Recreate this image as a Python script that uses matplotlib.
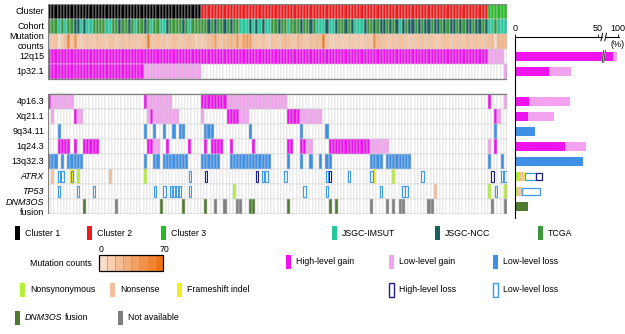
import matplotlib
matplotlib.use("Agg")
import matplotlib.pyplot as plt
from matplotlib.patches import Rectangle
from matplotlib.colors import LinearSegmentedColormap

plt.rcParams["font.family"] = ["Liberation Sans", "DejaVu Sans"]
plt.rcParams["font.size"] = 6.5

# ---------------- data ----------------
cluster_names = ["Cluster 1", "Cluster 2", "Cluster 3"]
cluster_sizes = [48, 90, 6]

# T = TCGA, I = JSGC-IMSUT, N = JSGC-NCC  (one letter per sample)
cohort = ("TTTITITTNNINIITT" "TTIITTNTTNTITTNT" "ITTIINTTTTNTITTT"
          "TTNTNTTNTNTTIIIN" "ININIITTNTTITTTN" "TTNTIIINIINTTNTN"
          "IIINTTNTNNTNTNIN" "TNNTNTNNTNNTNTNN" "TNTNNTNNTNIITIII")

mutation_counts = [
    18, 16, 20, 4, 14, 22, 55, 20, 48, 15, 12, 18, 20, 16, 14, 22,
    20, 18, 16, 22, 20, 14, 18, 20, 16, 22, 18, 20, 15, 18, 24, 62,
    20, 18, 22, 16, 20, 14, 18, 22, 20, 16, 18, 20, 24, 18, 10, 16,
    12, 18, 22, 26, 40, 20, 18, 22, 26, 30, 24, 42, 22, 38, 44, 40,
    20, 18, 16, 22, 14, 12, 20, 18, 16, 22, 28, 24, 20, 18, 30, 22,
    18, 16, 22, 20, 26, 24, 62, 20, 12, 10, 14, 16, 12, 14, 18, 16,
    14, 16, 12, 18, 20, 16, 50, 24, 22, 20, 18, 16, 20, 18, 22, 20,
    18, 14, 16, 18, 20, 22, 16, 18, 20, 16, 14, 18, 22, 20, 16, 18,
    20, 18, 16, 22, 18, 20, 22, 18, 16, 20, 24, 26, 6, 28, 30, 24,
]

# copy-number rows: runs of samples (first, last) per alteration type
cnv_12q15 = {"high_gain": [(0, 137)], "low_gain": [(138, 142)]}
cnv_1p32 = {"high_gain": [(0, 29)], "low_gain": [(30, 47), (143, 143)]}
cnv_4p16 = {"high_gain": [(0, 0), (30, 30), (48, 55), (138, 138)],
            "low_gain": [(1, 7), (31, 38), (56, 74), (143, 143)]}
cnv_xq21 = {"high_gain": [(8, 8), (32, 32), (56, 59), (75, 78), (140, 140)],
            "low_gain": [(1, 1), (9, 10), (31, 31), (33, 40), (48, 48),
                         (60, 62), (79, 85), (141, 141)]}
cnv_9q34 = {"low_loss": [(3, 3), (30, 30), (33, 33), (36, 36), (39, 39),
                         (41, 42), (49, 51), (63, 63), (79, 79), (87, 87),
                         (140, 140)]}
cnv_1q24 = {"high_gain": [(3, 6), (8, 8), (11, 15), (31, 32), (37, 37),
                          (44, 44), (49, 49), (51, 54), (57, 57), (64, 64),
                          (75, 76), (79, 80), (88, 100), (140, 140)],
            "low_gain": [(33, 34), (81, 82), (101, 106), (138, 138)]}
cnv_13q32 = {"low_loss": [(0, 2), (4, 4), (6, 10), (30, 30), (33, 34),
                          (36, 43), (48, 53), (57, 69), (75, 75), (79, 79),
                          (82, 82), (85, 85), (87, 88), (101, 104),
                          (106, 113), (138, 138), (142, 142)]}

# gene rows: sample indices per event
atrx = {"nonsense": [1, 19],
        "nonsyn": [9, 30, 108],
        "frameshift": [7, 102],
        "hl_loss": [49, 65, 88, 139],
        "ll_loss": [3, 4, 7, 44, 67, 68, 74, 87, 94, 101, 117, 142, 143]}
tp53 = {"nonsense": [121],
        "nonsyn": [58, 138, 143],
        "ll_loss": [3, 9, 14, 33, 36, 38, 39, 40, 41, 44, 80, 87, 104,
                    111, 112, 140]}
dnm3os = {"fusion": [11, 35, 42, 49, 63, 64, 75, 88, 90],
          "na": [21, 52, 55, 59, 60, 101, 106, 108, 110, 111, 119, 120,
                 139, 143]}

# frequency bars (%)
bar_labels = ["12q15", "1p32.1", "4p16.3", "Xq21.1", "9q34.11", "1q24.3",
              "13q32.3", "ATRX", "TP53", "DNM3OS"]
pct_nonsyn = [0, 0, 0, 0, 0, 0, 0, 2.4, 2.0, 0]
pct_nonsense = [0, 0, 0, 0, 0, 0, 0, 2.4, 2.0, 0]
pct_frameshift = [0, 0, 0, 0, 0, 0, 0, 1.2, 0, 0]
pct_fusion = [0, 0, 0, 0, 0, 0, 0, 0, 0, 7.8]
pct_high_gain = [96, 20.5, 8.4, 7.8, 0, 30, 0, 0, 0, 0]
pct_low_gain = [3.5, 13.5, 25, 16, 0, 13, 0, 0, 0, 0]
pct_low_loss = [0, 0, 0, 0, 12, 0, 41, 0, 0, 0]
pct_ll_outline = [0, 0, 0, 0, 0, 0, 0, 6.6, 11, 0]
pct_hl_outline = [0, 0, 0, 0, 0, 0, 0, 3.6, 0, 0]

# ---------------- styles ----------------
C = {
    "Cluster 1": "#000000", "Cluster 2": "#ee1c1c", "Cluster 3": "#27bb27",
    "T": "#3c963c", "I": "#24c89c", "N": "#17615f",
    "high_gain": "#ee12ee", "low_gain": "#f2a2ee", "low_loss": "#3f8fe4",
    "hl_loss": "#1e1e86", "ll_loss": "#3f9be8",
    "nonsyn": "#b4ef3a", "nonsense": "#f3bf9e", "frameshift": "#efef1c",
    "fusion": "#4d7a2e", "na": "#7f7f7f",
}
GRID = "#d2d2d2"
mut_cmap = LinearSegmentedColormap.from_list("mut", ["#fbe3d4", "#ee6d0c"])

row_names = ["Cluster", "Cohort", "Mutation\ncounts", "12q15", "1p32.1", "",
             "4p16.3", "Xq21.1", "9q34.11", "1q24.3", "13q32.3", "ATRX",
             "TP53", "DNM3OS"]
n_cols = sum(cluster_sizes)

fig = plt.figure(figsize=(6.25, 3.34), dpi=100)
W, H = 625.0, 334.0
ax = fig.add_axes([48 / W, 1 - 214 / H, 459 / W, 210 / H])
ax.set_xlim(0, n_cols)
ax.set_ylim(14, 0)
ax.axis("off")


def cell(col, row, color):
    ax.add_patch(Rectangle((col, row), 1, 1, facecolor=color,
                           edgecolor=GRID, lw=0.35))


def outline(col, row, color):
    ax.add_patch(Rectangle((col + 0.12, row + 0.12), 0.76, 0.76,
                           facecolor="none", edgecolor=color, lw=0.8))


def expand(runs):
    out = []
    for a, b in runs:
        out.extend(range(a, b + 1))
    return out


# background grid
for r in list(range(5)) + list(range(6, 14)):
    for c in range(n_cols):
        cell(c, r, "white")

# cluster row
start = 0
for name, size in zip(cluster_names, cluster_sizes):
    for c in range(start, start + size):
        cell(c, 0, C[name])
    start += size

# cohort + mutation counts
for c, code in enumerate(cohort):
    cell(c, 1, C[code])
for c, v in enumerate(mutation_counts):
    cell(c, 2, mut_cmap(min(v, 70) / 70))

# copy-number rows
for row, spec in [(3, cnv_12q15), (4, cnv_1p32), (6, cnv_4p16), (7, cnv_xq21),
                  (8, cnv_9q34), (9, cnv_1q24), (10, cnv_13q32)]:
    for kind, runs in spec.items():
        for c in expand(runs):
            cell(c, row, C[kind])

# gene rows
for row, spec in [(11, atrx), (12, tp53), (13, dnm3os)]:
    for kind in ["nonsense", "nonsyn", "frameshift", "fusion", "na"]:
        for c in spec.get(kind, []):
            cell(c, row, C[kind])
    for kind in ["hl_loss", "ll_loss"]:
        for c in spec.get(kind, []):
            outline(c, row, C[kind])

# block frames
ax.add_patch(Rectangle((0, 0), n_cols, 5, fill=False, ec="#808080", lw=0.9))
ax.add_patch(Rectangle((0, 6), n_cols, 8, fill=False, ec="#808080", lw=0.9))

# row labels
for r, name in enumerate(row_names):
    if not name:
        continue
    if name in ("ATRX", "TP53"):
        ax.text(-1.2, r + 0.5, name, ha="right", va="center", style="italic")
    elif name == "DNM3OS":
        ax.text(-1.2, r + 0.25, name, ha="right", va="center", style="italic")
        ax.text(-1.2, r + 0.9, "fusion", ha="right", va="center")
    else:
        ax.text(-1.2, r + 0.5, name, ha="right", va="center",
                linespacing=1.05)

# ---------------- frequency bars ----------------


def squash(v):
    # broken axis: 0-50 linear, 50-88 squeezed, 88-100 shown compressed
    if v <= 50:
        return v
    if v <= 88:
        return 50 + (v - 50) * 3 / 38
    return 53 + (v - 88) * 0.75


bx = fig.add_axes([515 / W, 1 - 218 / H, 106.2 / W, 181 / H])
y_top = 2.2
bx.set_xlim(0, 64)
bx.set_ylim(14.27, y_top)
for s in ["top", "right", "bottom"]:
    bx.spines[s].set_visible(False)
bx.spines["left"].set_linewidth(0.8)
bx.tick_params(left=False, labelleft=False, bottom=False, labelbottom=False,
               top=True, labeltop=True, length=2, width=0.6, pad=1,
               direction="out")
bx.set_xticks([squash(0), squash(50), squash(100)])
bx.set_xticklabels(["0", "50", "100"])

segments = [
    (pct_nonsyn, "nonsyn", True), (pct_nonsense, "nonsense", True),
    (pct_frameshift, "frameshift", True), (pct_fusion, "fusion", True),
    (pct_high_gain, "high_gain", True), (pct_low_gain, "low_gain", True),
    (pct_low_loss, "low_loss", True), (pct_ll_outline, "ll_loss", False),
    (pct_hl_outline, "hl_loss", False),
]
for i, lab in enumerate(bar_labels):
    r = row_names.index(lab) + 0.5
    acc = 0.0
    for vals, kind, filled in segments:
        v = vals[i]
        if v <= 0:
            continue
        left, right = squash(acc), squash(acc + v)
        if filled:
            bx.barh(r, right - left, left=left, height=0.55, color=C[kind],
                    lw=0)
        else:
            bx.barh(r, right - left, left=left, height=0.5, color="white",
                    edgecolor=C[kind], lw=0.9)
        acc += v

# axis break marks
bx.plot([0, 52.3], [y_top, y_top], color="black", lw=0.8, clip_on=False)
bx.plot([54.6, 62.5], [y_top, y_top], color="black", lw=0.8, clip_on=False)
for xb in (52.3, 54.6):
    bx.plot([xb - 0.5, xb + 0.5], [y_top + 0.25, y_top - 0.25], color="black",
            lw=0.7, clip_on=False)
r12 = row_names.index("12q15") + 0.5
for xb in (53.0, 54.0):
    bx.plot([xb - 0.5, xb + 0.5], [r12 + 0.4, r12 - 0.4], color="white",
            lw=1.0)
    bx.plot([xb - 0.5, xb + 0.5], [r12 + 0.4, r12 - 0.4], color="black",
            lw=0.5)
bx.text(squash(100), 2.7, "(%)", ha="center", va="center")

# ---------------- legend ----------------
lg = fig.add_axes([0, 0, 1, 1], zorder=-1)
lg.set_xlim(0, W)
lg.set_ylim(H, 0)
lg.axis("off")
FS = 6.3


def key(x, y, color, text, hollow=False, italic_part=None):
    if hollow:
        lg.add_patch(Rectangle((x, y - 7), 4.5, 14, facecolor="white",
                               edgecolor=color, lw=1.0))
    else:
        lg.add_patch(Rectangle((x, y - 7), 4.5, 14, facecolor=color, lw=0))
    if italic_part:
        t = lg.text(x + 10, y, italic_part, va="center", fontsize=FS,
                    style="italic")
        fig.canvas.draw()
        ext = t.get_window_extent()
        x_end = lg.transData.inverted().transform((ext.x1, ext.y0))[0]
        lg.text(x_end + 2.5, y, text, va="center", fontsize=FS)
    else:
        lg.text(x + 10, y, text, va="center", fontsize=FS)


key(15, 233, C["Cluster 1"], "Cluster 1")
key(87, 233, C["Cluster 2"], "Cluster 2")
key(161, 233, C["Cluster 3"], "Cluster 3")
key(332, 233, C["I"], "JSGC-IMSUT")
key(435, 233, C["N"], "JSGC-NCC")
key(538, 233, C["T"], "TCGA")

lg.text(92, 263, "Mutation counts", ha="right", va="center", fontsize=FS)
n_seg = 8
for k in range(n_seg):
    lg.add_patch(Rectangle((99 + k * 8, 255), 8, 16,
                           facecolor=mut_cmap((k + 0.5) / n_seg),
                           edgecolor="#b0a090", lw=0.5))
lg.add_patch(Rectangle((99, 255), 64, 16, fill=False, ec="black", lw=0.9))
lg.text(101, 249, "0", ha="center", va="center", fontsize=FS)
lg.text(164, 249, "70", ha="center", va="center", fontsize=FS)

key(286, 262, C["high_gain"], "High-level gain")
key(389, 262, C["low_gain"], "Low-level gain")
key(493, 262, C["low_loss"], "Low-level loss")

key(20, 290, C["nonsyn"], "Nonsynonymous")
key(110, 290, C["nonsense"], "Nonsense")
key(177, 290, C["frameshift"], "Frameshift indel")
key(389, 290, C["hl_loss"], "High-level loss", hollow=True)
key(493, 290, C["ll_loss"], "Low-level loss", hollow=True)

key(15, 318, C["fusion"], "fusion", italic_part="DNM3OS")
key(118, 318, C["na"], "Not available")

fig.savefig("out.png", dpi=100)
